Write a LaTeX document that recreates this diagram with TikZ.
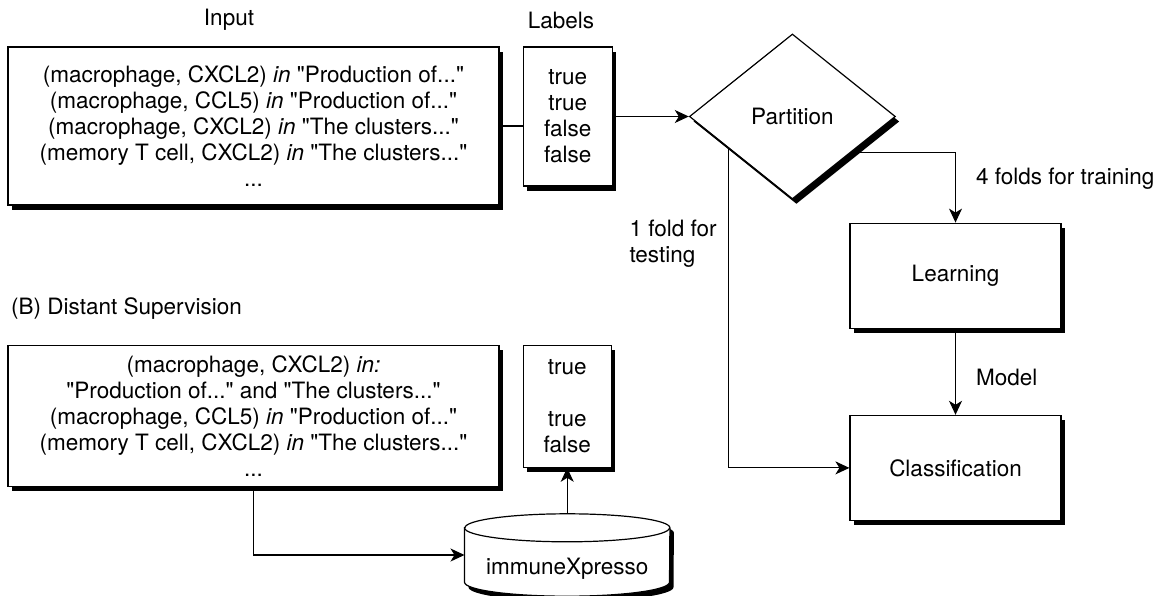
\documentclass[tikz,border=0pt]{standalone}
\usepackage{fontspec}
\setmainfont{TeX Gyre Heros}[Ligatures=TeXOff]
\usepackage{tikz}
\usetikzlibrary{shapes,arrows.meta,shadows}
\usetikzlibrary{positioning}
\usetikzlibrary{calc}
\tikzstyle{block} = [draw, rectangle, fill=white, line width=1.2pt, align=center,
drop shadow={shadow xshift=4pt, shadow yshift=-5pt, fill=black, opacity=1}]
\tikzstyle{line} = [draw, line width=1.1pt, -{Stealth[length=14pt,width=13pt,inset=4pt]}]

\begin{document}
\begin{tikzpicture}[x=1pt, y=-1pt, inner sep=0pt,
	font=\fontsize{22.5}{26}\selectfont,
	decision/.style={draw, diamond, fill=white, line width=1.2pt,
		minimum width=206pt, minimum height=165pt,
		drop shadow={shadow xshift=4pt, shadow yshift=-5pt, fill=black, opacity=1}},
	store/.style={draw, fill=white, line width=1.2pt,
		drop shadow={shadow xshift=4pt, shadow yshift=-5pt, fill=black, opacity=1}}]
	\useasboundingbox (0,0) rectangle (1155,596);
	%% (A) Input and labels
	\node[block, minimum width=491pt, minimum height=158pt] (in) at (253.5,126)
		{(macrophage, CXCL2) \textit{in} "Production of..."\\
		(macrophage, CCL5) \textit{in} "Production of..."\\
		(macrophage, CXCL2) \textit{in} "The clusters..."\\
		(memory T cell, CXCL2) \textit{in} "The clusters..."\\
		...};
	\node[block, below right=0pt and 23pt of in.north east, minimum width=89pt,
		minimum height=139pt] (lab) {true\\true\\false\\false};
	\node (intitle) at (229,20) {Input};
	\node (labtitle) at (561,20) {Labels};
	\node[decision, right=76pt of lab] (part) {Partition};
	\node[block, below right=23pt and 57pt of part.south, minimum width=211pt,
		minimum height=105pt] (learn) {Learning};
	\node[block, below=86pt of learn, minimum width=211pt,
		minimum height=105pt] (cls) {Classification};
	%% (B) Distant supervision
	\node[anchor=west] (btitle) at (11,309) {(B) Distant Supervision};
	\node[block, below=139pt of in, minimum width=491pt, minimum height=141pt] (din)
		{(macrophage, CXCL2) \textit{in:}\\
		"Production of..." and "The clusters..."\\
		(macrophage, CCL5) \textit{in} "Production of..."\\
		(memory T cell, CXCL2) \textit{in} "The clusters..."\\
		...};
	\node[block, below right=0pt and 23pt of din.north east, minimum width=88pt,
		minimum height=122pt] (dlab) {true\\~\\true\\false};
	% database
	\node[below=46pt of dlab, minimum width=205pt, minimum height=82pt] (ix) {};
	\path[store] ($(ix.north west)+(0,14)$) -- ($(ix.south west)+(0,-14)$)
		arc[start angle=180, end angle=0, x radius=102.5, y radius=14]
		-- ($(ix.north east)+(0,14)$)
		arc[start angle=0, end angle=-180, x radius=102.5, y radius=14] -- cycle;
	\draw[line width=1.2pt] ($(ix.north west)+(0,14)$)
		arc[start angle=180, end angle=0, x radius=102.5, y radius=14];
	\node (ixtext) at ($(ix)+(0,14)$) {immuneXpresso};
	%% Flows
	\path [draw, line width=1.1pt] (in.east) -- (in.east -| lab.west);
	\path [line] (lab) -- (part);
	\path [line] ($(part.east)!0.43!(part.south)$) -| node[pos=0.69, right=20pt] {4 folds for training} (learn.north);
	\path [line] ($(part.west)!0.38!(part.south)$) |- node[pos=0.15, left=11pt, align=left] {1 fold for\\testing} (cls.west);
	\path [line] (learn) -- node[pos=0.57, right=20pt] {Model} (cls);
	\path [line] (din.south) |- (ix.west);
	\path [line] (ix.north) -- (dlab.south);
\end{tikzpicture}
\end{document}
